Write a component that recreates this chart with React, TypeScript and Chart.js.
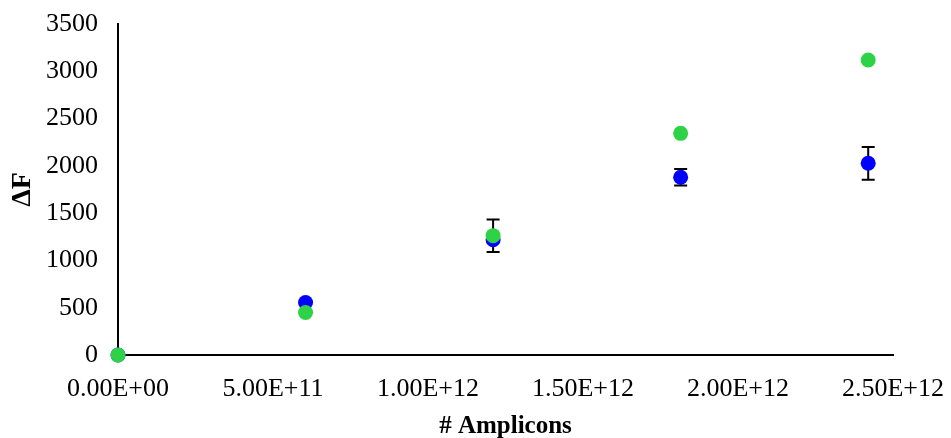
import React, { useEffect, useRef } from "react";
import { Chart, registerables } from "chart.js";

Chart.register(...registerables);

const amplicons = [0, 6.05e11, 1.21e12, 1.815e12, 2.42e12];
const blueValues = [0, 555, 1219, 1879, 2027];
const blueErrors = [0, 0, 0, 88, 173];
const greenValues = [0, 449, 1262, 2344, 3119];
const greenErrors = [0, 0, 172, 0, 0];
const yTicks = [0, 500, 1000, 1500, 2000, 2500, 3000, 3500];
const xTickValues = [0, 5e11, 1e12, 1.5e12, 2e12, 2.5e12];

const FONT = "'Liberation Serif', 'Times New Roman', serif";

function fmtExp(v: number): string {
  const s = v.toExponential(2).toUpperCase();
  const m = s.match(/^(-?[\d.]+)E([+-])(\d+)$/);
  if (!m) return s;
  return `${m[1]}E${m[2]}${m[3].padStart(2, "0")}`;
}

const errorBarPlugin = {
  id: "errorBars",
  beforeDatasetsDraw(chart: any) {
    const ctx = chart.ctx;
    const xs = chart.scales.x;
    const ys = chart.scales.y;
    ctx.save();
    ctx.strokeStyle = "#000";
    ctx.lineWidth = 2;
    chart.data.datasets.forEach((ds: any) => {
      const errs: number[] = ds.errors || [];
      ds.data.forEach((p: any, i: number) => {
        const e = errs[i];
        if (!e) return;
        const x = xs.getPixelForValue(p.x);
        const yTop = ys.getPixelForValue(p.y + e);
        const yBot = ys.getPixelForValue(p.y - e);
        const half = 6.5;
        ctx.beginPath();
        ctx.moveTo(x, yTop);
        ctx.lineTo(x, yBot);
        ctx.moveTo(x - half, yTop);
        ctx.lineTo(x + half, yTop);
        ctx.moveTo(x - half, yBot);
        ctx.lineTo(x + half, yBot);
        ctx.stroke();
      });
    });
    ctx.restore();
  },
};

export default function App() {
  const ref = useRef<HTMLCanvasElement | null>(null);
  useEffect(() => {
    if (!ref.current) return;
    const chart = new Chart(ref.current, {
      type: "scatter",
      data: {
        datasets: [
          {
            label: "Green",
            data: amplicons.map((x, i) => ({ x, y: greenValues[i] })),
            errors: greenErrors,
            backgroundColor: "rgb(46, 210, 70)",
            borderColor: "rgb(46, 210, 70)",
            pointRadius: 7.5,
            pointHoverRadius: 7.5,
            borderWidth: 0,
            clip: false,
          } as any,
          {
            label: "Blue",
            data: amplicons.map((x, i) => ({ x, y: blueValues[i] })),
            errors: blueErrors,
            backgroundColor: "#0000ff",
            borderColor: "#0000ff",
            pointRadius: 7.5,
            pointHoverRadius: 7.5,
            borderWidth: 0,
            clip: false,
          } as any,
        ],
      },
      options: {
        responsive: false,
        animation: false,
        layout: { padding: { top: 24, right: 58, left: 0, bottom: 0 } },
        plugins: {
          legend: { display: false },
          tooltip: { enabled: false },
        },
        scales: {
          x: {
            type: "linear",
            min: 0,
            max: 2.5e12,
            afterBuildTicks: (scale: any) => {
              scale.ticks = xTickValues.map((v) => ({ value: v }));
            },
            afterFit: (scale: any) => {
              scale.height = 83;
              scale.paddingLeft = 0;
              scale.paddingRight = 0;
            },
            grid: { drawOnChartArea: false, drawTicks: false },
            border: { display: true, color: "#000", width: 2 },
            ticks: {
              padding: 19,
              color: "#000",
              font: { family: FONT, size: 26 },
              maxRotation: 0,
              autoSkip: false,
              callback: (v: any) => fmtExp(Number(v)),
            },
            title: {
              display: true,
              text: "# Amplicons",
              color: "#000",
              font: { family: FONT, size: 25, weight: "bold" },
              padding: { top: 0, bottom: -4 },
            },
          },
          y: {
            type: "linear",
            min: 0,
            max: 3500,
            afterBuildTicks: (scale: any) => {
              scale.ticks = yTicks.map((v) => ({ value: v }));
            },
            afterFit: (scale: any) => {
              scale.width = 118;
              scale.paddingTop = 0;
              scale.paddingBottom = 0;
            },
            grid: { drawOnChartArea: false, drawTicks: false },
            border: { display: true, color: "#000", width: 2 },
            ticks: {
              padding: 20,
              color: "#000",
              font: { family: FONT, size: 26 },
              autoSkip: false,
              callback: (v: any) => String(v),
            },
            title: {
              display: true,
              text: "ΔF",
              color: "#000",
              font: { family: FONT, size: 28, weight: "bold" },
              padding: { top: 6, bottom: 0 },
            },
          },
        },
      },
      plugins: [errorBarPlugin],
    } as any);
    return () => chart.destroy();
  }, []);
  return (
    <div style={{ position: "absolute", left: 0, top: 0, width: 951, height: 438, background: "#fff" }}>
      <canvas ref={ref} width={951} height={438} style={{ width: 951, height: 438, display: "block" }} />
    </div>
  );
}
